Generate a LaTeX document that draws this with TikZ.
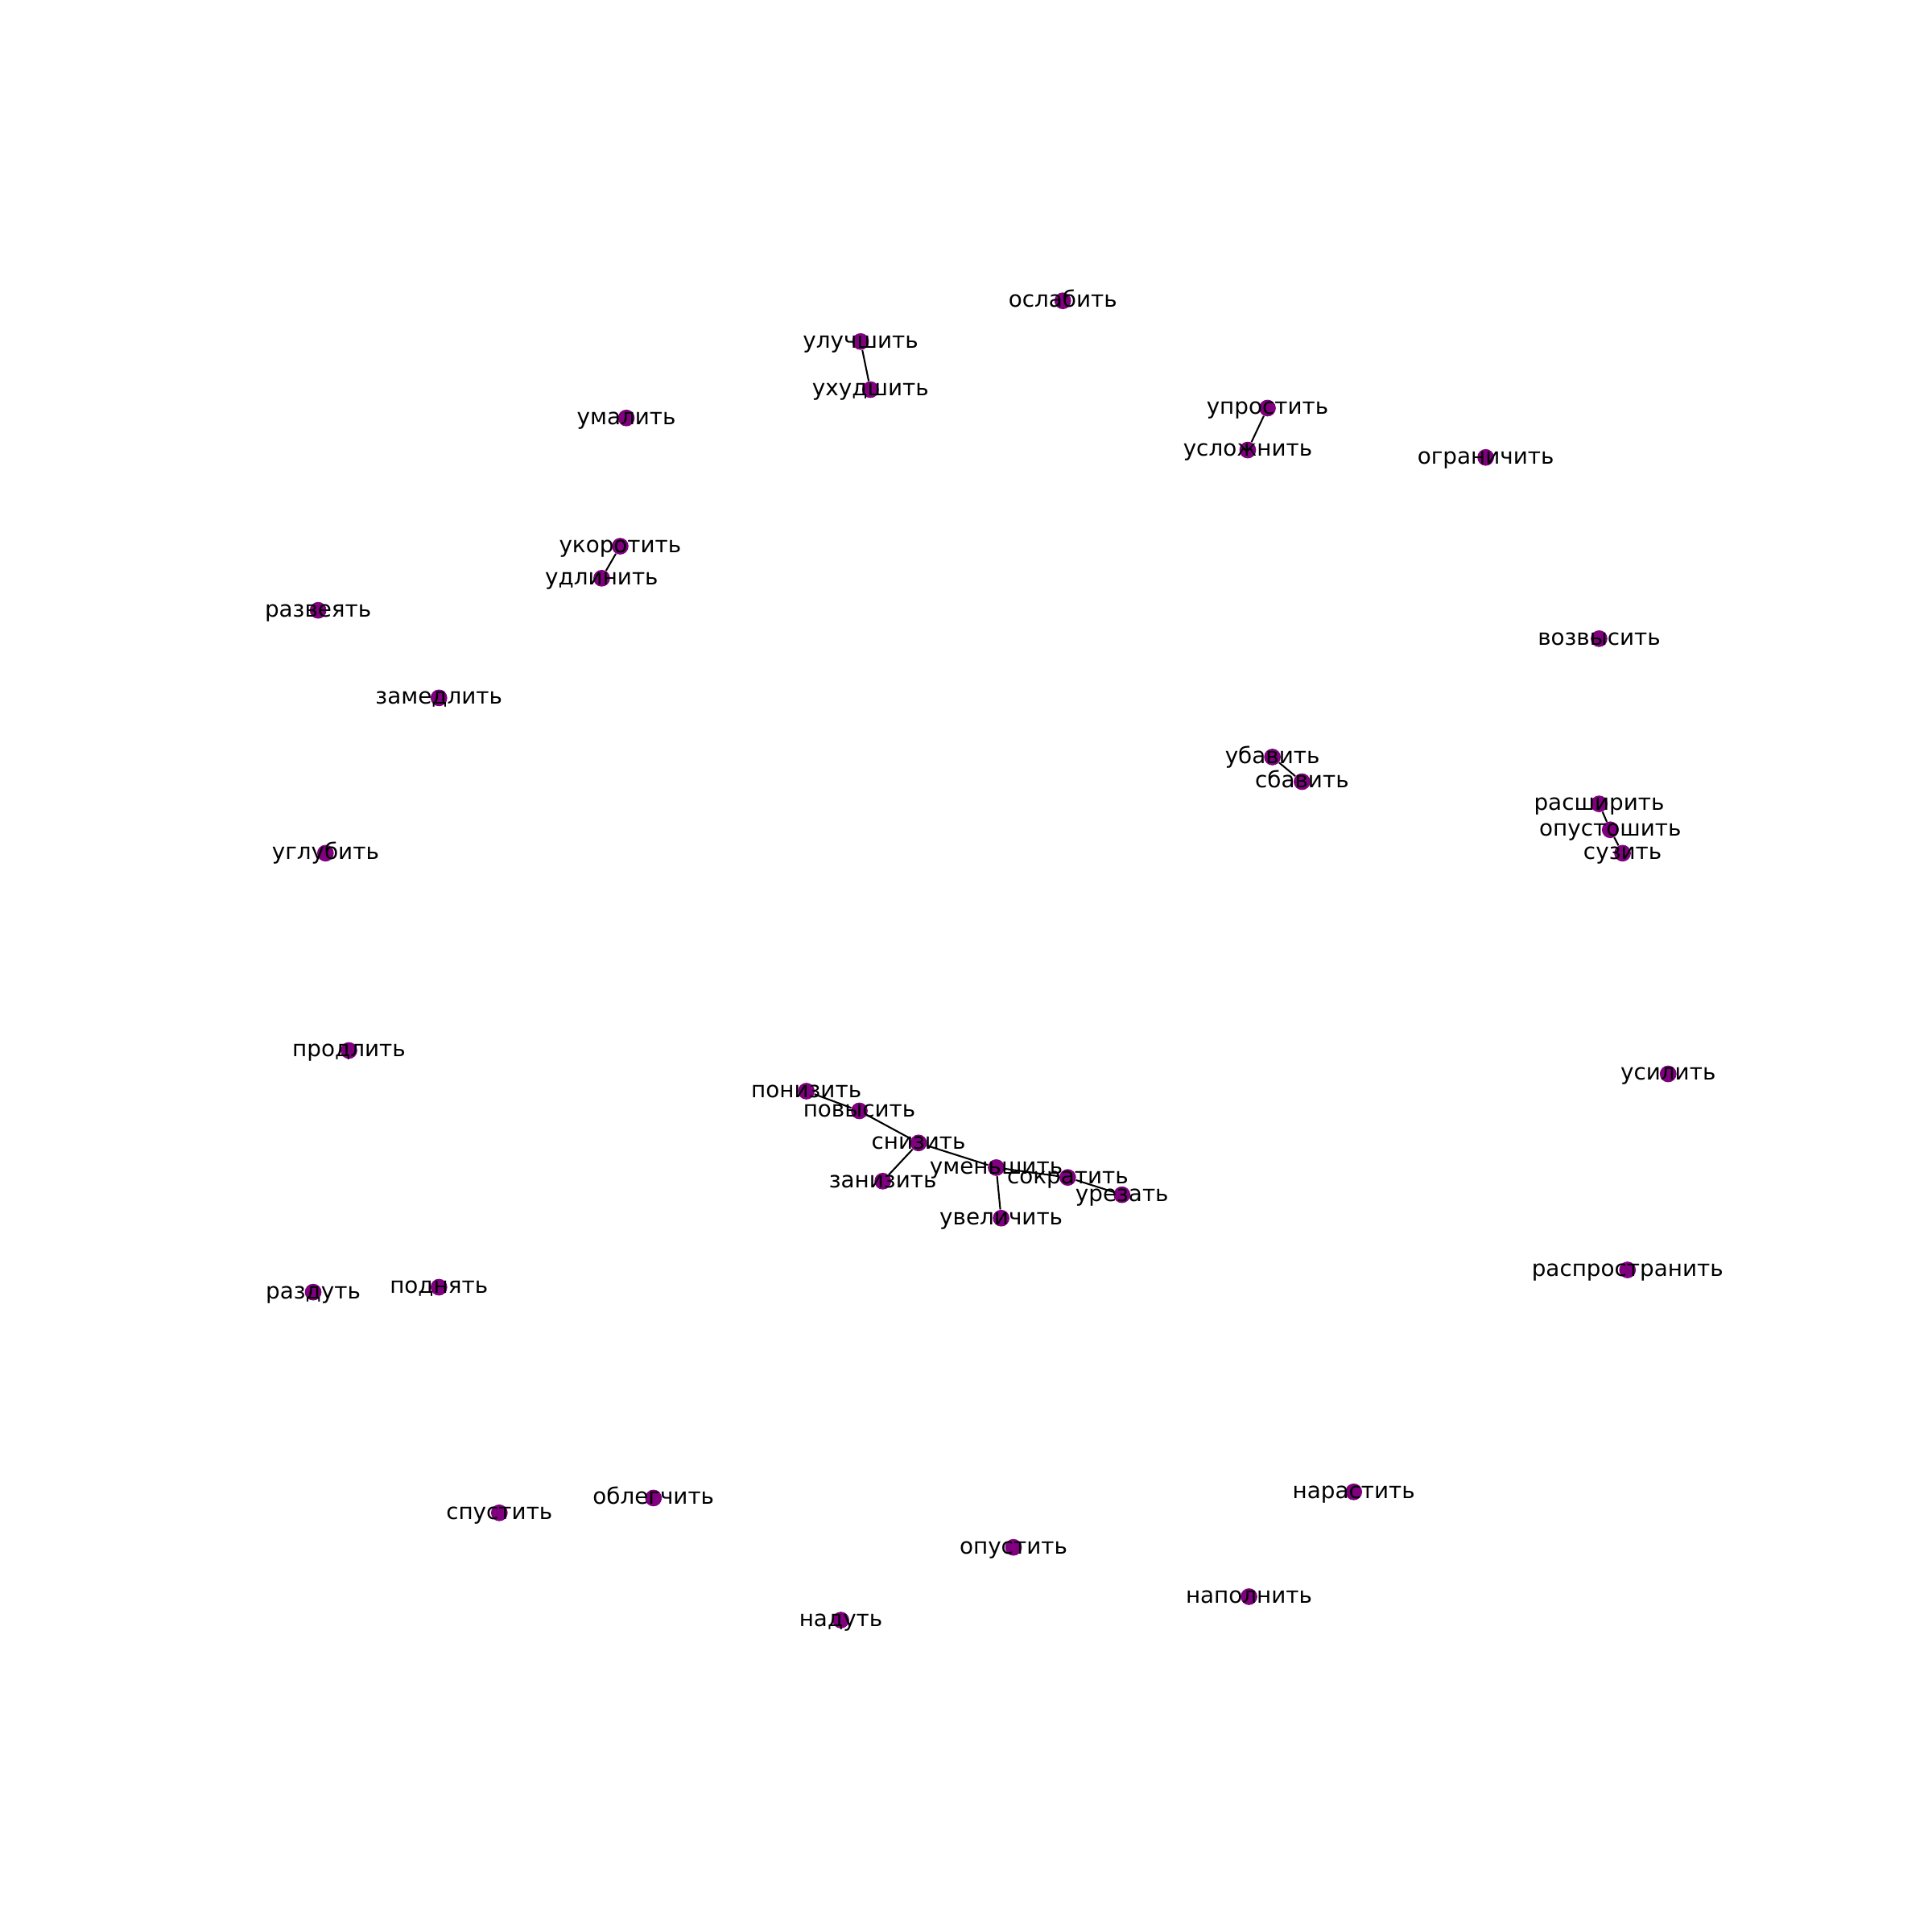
\documentclass[tikz,border=0pt]{standalone}
\usepackage{fontspec}
\setmainfont{DejaVu Sans}
\definecolor{nodepurple}{RGB}{128,0,128}
\tikzset{
	vertex/.style={circle, fill=nodepurple, inner sep=0pt, minimum size=10pt},
	word/.style={anchor=base, yshift=-3.8pt, inner sep=0pt, font=\fontsize{13.4}{16}\selectfont},
	link/.style={line width=1pt, black}
}

\begin{document}
\begin{tikzpicture}[x=0.025935cm, y=-0.025935cm]
	\useasboundingbox (0,0) rectangle (1567,1567);
	\foreach \name/\pos in {
		oslabit/{(862,244)},
		uluchshit/{(698,277)},
		ukhudshit/{(706,316)},
		umalit/{(508,339)},
		uprostit/{(1028,331)},
		uslozhnit/{(1012,365)},
		ogranichit/{(1205,371)},
		ukorotit/{(503,443)},
		udlinit/{(488,469)},
		razveyat/{(258,495)},
		vozvysit/{(1297,518)},
		zamedlit/{(356,566)},
		ubavit/{(1032,614)},
		sbavit/{(1056,634)},
		rasshirit/{(1297,652)},
		opustoshit/{(1306,673)},
		suzit/{(1316,692)},
		uglubit/{(264,692)},
		prodlit/{(283,852)},
		usilit/{(1353,871)},
		ponizit/{(654,885)},
		povysit/{(697,901)},
		snizit/{(745,927)},
		umenshit/{(808,947)},
		sokratit/{(866,955)},
		urezat/{(910,969)},
		zanizit/{(716,958)},
		uvelichit/{(812,988)},
		rasprostranit/{(1320,1030)},
		razdut/{(254,1048)},
		podnyat/{(356,1044)},
		narastit/{(1098,1210)},
		oblegchit/{(530,1215)},
		spustit/{(405,1227)},
		opustit/{(822,1255)},
		napolnit/{(1013,1295)},
		nadut/{(682,1314)}}
		\node[vertex] (\name) at \pos {};
	\foreach \a/\b in {uluchshit/ukhudshit, uprostit/uslozhnit, ukorotit/udlinit, ubavit/sbavit,
		rasshirit/opustoshit, opustoshit/suzit, ponizit/povysit, povysit/snizit, snizit/zanizit,
		snizit/umenshit, umenshit/uvelichit, umenshit/sokratit, sokratit/urezat}
		\draw[link] (\a) -- (\b);
	\foreach \name/\txt in {oslabit/ослабить, uluchshit/улучшить, ukhudshit/ухудшить, umalit/умалить,
		uprostit/упростить, uslozhnit/усложнить, ogranichit/ограничить, ukorotit/укоротить,
		udlinit/удлинить, razveyat/развеять, vozvysit/возвысить, zamedlit/замедлить,
		ubavit/убавить, sbavit/сбавить, rasshirit/расширить, opustoshit/опустошить,
		suzit/сузить, uglubit/углубить, prodlit/продлить, usilit/усилить,
		ponizit/понизить, povysit/повысить, snizit/снизить, umenshit/уменьшить,
		sokratit/сократить, urezat/урезать, zanizit/занизить, uvelichit/увеличить,
		rasprostranit/распространить, razdut/раздуть, podnyat/поднять, narastit/нарастить,
		oblegchit/облегчить, spustit/спустить, opustit/опустить, napolnit/наполнить,
		nadut/надуть}
		\node[word] at (\name.center) {\txt};
\end{tikzpicture}
\end{document}
